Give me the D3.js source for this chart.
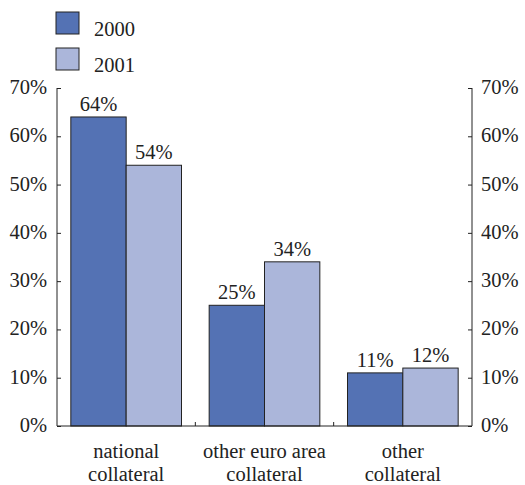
<!DOCTYPE html>
<html>
<head>
<meta charset="utf-8">
<script src="https://cdn.jsdelivr.net/npm/d3@7"></script>
<style>
  body { margin: 0; background: #fff; }
  text { font-family: "Liberation Serif", "DejaVu Serif", serif; fill: #222; }
</style>
</head>
<body>
<div id="chart"></div>
<script>
var categories = [["national", "collateral"], ["other euro area", "collateral"], ["other", "collateral"]];
var seriesNames = ["2000", "2001"];
var values2000 = [64, 25, 11];
var values2001 = [54, 34, 12];
var yTicks = [0, 10, 20, 30, 40, 50, 60, 70];

var colors = ["#5472b4", "#abb6da"];
var width = 525, height = 485;
var mLeft = 57, mRight = 472, mTop = 88, mBottom = 426;
var fs = 20.5;

var svg = d3.select('#chart').append('svg').attr('width', width).attr('height', height);

var x0 = d3.scaleBand().domain(d3.range(categories.length)).range([mLeft, mRight]);
var xs = d3.scaleBand().domain(seriesNames).range([0, x0.bandwidth() * 0.8]);
var y = d3.scaleLinear().domain([0, 70]).range([mBottom, mTop]);
var groupPad = x0.bandwidth() * 0.1;

var data = [values2000, values2001];

// bars
seriesNames.forEach(function(s, si){
  var g = svg.append('g');
  g.selectAll('rect').data(data[si]).enter().append('rect')
    .attr('x', function(d, i){ return x0(i) + groupPad + xs(s); })
    .attr('y', function(d){ return y(d); })
    .attr('width', xs.bandwidth())
    .attr('height', function(d){ return mBottom - y(d); })
    .attr('fill', colors[si])
    .attr('stroke', '#222').attr('stroke-width', 1);
  g.selectAll('text').data(data[si]).enter().append('text')
    .attr('x', function(d, i){ return x0(i) + groupPad + xs(s) + xs.bandwidth() / 2; })
    .attr('y', function(d){ return y(d) - 6; })
    .attr('text-anchor', 'middle').attr('font-size', fs)
    .text(function(d){ return d + '%'; });
});

// axes
var leftAxis = svg.append('g').attr('transform', 'translate(' + mLeft + ',0)')
  .call(d3.axisRight(y).tickValues(yTicks).tickSize(4).tickFormat(''));
var rightAxis = svg.append('g').attr('transform', 'translate(' + mRight + ',0)')
  .call(d3.axisLeft(y).tickValues(yTicks).tickSize(4).tickFormat(''));
[leftAxis, rightAxis].forEach(function(a){
  a.select('.domain').remove();
  a.selectAll('line').attr('stroke', '#222');
});
svg.append('line').attr('x1', mLeft).attr('x2', mLeft).attr('y1', mTop).attr('y2', mBottom).attr('stroke', '#222');
svg.append('line').attr('x1', mRight).attr('x2', mRight).attr('y1', mTop).attr('y2', mBottom).attr('stroke', '#222');
svg.append('line').attr('x1', mLeft).attr('x2', mRight).attr('y1', mBottom).attr('y2', mBottom).attr('stroke', '#222');

svg.selectAll('.ll').data(yTicks).enter().append('text')
  .attr('x', mLeft - 10).attr('y', function(d){ return y(d) + 6; })
  .attr('text-anchor', 'end').attr('font-size', fs)
  .text(function(d){ return d + '%'; });
svg.selectAll('.rl').data(yTicks).enter().append('text')
  .attr('x', mRight + 9).attr('y', function(d){ return y(d) + 6; })
  .attr('text-anchor', 'start').attr('font-size', fs)
  .text(function(d){ return d + '%'; });

// category separators
svg.selectAll('.sep').data([1, 2]).enter().append('line')
  .attr('x1', function(d){ return x0(d); }).attr('x2', function(d){ return x0(d); })
  .attr('y1', mBottom).attr('y2', mBottom - 4).attr('stroke', '#222');

// category labels
categories.forEach(function(c, i){
  c.forEach(function(line, li){
    svg.append('text')
      .attr('x', x0(i) + x0.bandwidth() / 2).attr('y', 458 + li * 23)
      .attr('text-anchor', 'middle').attr('font-size', fs)
      .text(line);
  });
});

// legend
seriesNames.forEach(function(s, si){
  svg.append('rect').attr('x', 56).attr('y', 12 + si * 36).attr('width', 23).attr('height', 22)
    .attr('fill', colors[si]).attr('stroke', '#222');
  svg.append('text').attr('x', 94).attr('y', 36 + si * 36).attr('font-size', fs).text(s);
});
</script>
</body>
</html>
